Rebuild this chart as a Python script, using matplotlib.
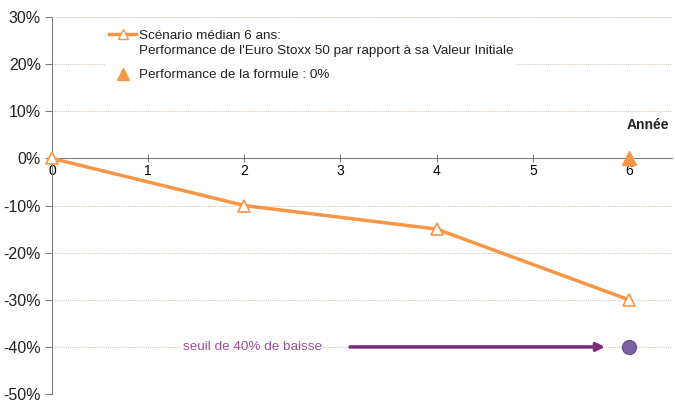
import matplotlib.pyplot as plt
from matplotlib.lines import Line2D

annees = [0, 2, 4, 6]
scenario = [0, -10, -15, -30]
formule_x = [6]
formule_y = [0]
seuil_x = [6]
seuil_y = [-40]
yticks = [30, 20, 10, 0, -10, -20, -30, -40, -50]

orange = '#f79646'
violet = '#7b2c7f'

plt.rcParams['font.family'] = ['Liberation Sans', 'DejaVu Sans']

fig = plt.figure(figsize=(6.75, 4.05), dpi=100)
ax = fig.add_axes([0.077, 0.027, 0.919, 0.931])

for v in yticks:
    if v != 0:
        ax.axhline(v, color='#d8c6b6', lw=0.8, ls=(0, (1, 1)), zorder=0)

ax.plot(annees, scenario, color=orange, lw=2.5, marker='^', ms=9,
        mfc='white', mec=orange, mew=1.2, zorder=3, clip_on=False)
ax.plot(formule_x, formule_y, ls='none', marker='^', ms=10, color=orange,
        zorder=4, clip_on=False)
ax.plot(seuil_x, seuil_y, ls='none', marker='o', ms=10, color='#7b62a3',
        mec='#6a5294', zorder=4)

ax.annotate('', xy=(5.75, -40), xytext=(3.1, -40),
            arrowprops=dict(arrowstyle='-|>', color=violet, lw=2.5,
                            mutation_scale=12, shrinkA=0, shrinkB=0))
ax.text(2.08, -40, 'seuil de 40% de baisse', color='#9b4f96', fontsize=9.7,
        ha='center', va='center',
        bbox=dict(facecolor='white', edgecolor='none', pad=1))
ax.text(6.2, 7, 'Année', fontsize=10, fontweight='bold', ha='center', va='center',
        color='#222222')

ax.set_xlim(0, 6.45)
ax.set_ylim(-50, 30)
ax.set_yticks(yticks)
ax.set_yticklabels([f'{v}%' for v in yticks], fontsize=11.5, color='#222222')
ax.set_xticks(range(7))
ax.set_xticklabels([str(i) for i in range(7)], fontsize=10.5, color='#222222')

for s in ['top', 'right']:
    ax.spines[s].set_visible(False)
ax.spines['left'].set_color('#7f7f7f')
ax.spines['bottom'].set_position(('data', 0))
ax.spines['bottom'].set_color('#7f7f7f')
ax.tick_params(axis='y', direction='out', length=5, color='#7f7f7f', pad=3)
ax.tick_params(axis='x', direction='inout', length=6, color='#7f7f7f', pad=1)

handles = [
    Line2D([], [], color=orange, lw=2.5, marker='^', ms=7, mfc='white', mec=orange),
    Line2D([], [], ls='none', marker='^', ms=8, color=orange),
]
labels = [
    "Scénario médian 6 ans:\nPerformance de l'Euro Stoxx 50 par rapport à sa Valeur Initiale",
    'Performance de la formule : 0%',
]
leg = ax.legend(handles, labels, loc='upper left', bbox_to_anchor=(0.075, 0.995),
                frameon=True, fontsize=9.7, handlelength=2.0, handletextpad=0.2,
                labelspacing=0.9, borderpad=0.3)
leg.get_frame().set_edgecolor('none')
leg.get_frame().set_facecolor('white')
leg.get_frame().set_alpha(1)
for t in leg.get_texts():
    t.set_linespacing(1.4)
    t.set_color('#222222')
# aligner le symbole sur la premiere ligne du texte
for col in leg._legend_handle_box.get_children():
    for row in col.get_children():
        row.align = 'top'

fig.savefig('out.png', dpi=100)
